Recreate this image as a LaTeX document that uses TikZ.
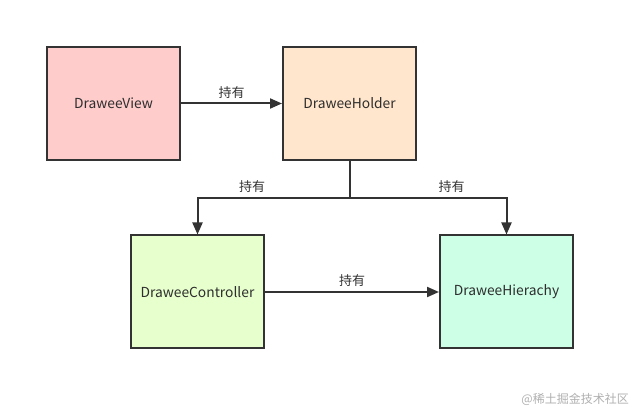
\documentclass[tikz,border=0pt]{standalone}
\usepackage{fontspec}
\setmainfont{Noto Sans CJK SC}
\usetikzlibrary{arrows.meta}
\definecolor{cPink}{HTML}{FFCCCC}
\definecolor{cOrange}{HTML}{FFE6CC}
\definecolor{cGreen}{HTML}{E6FFCC}
\definecolor{cMint}{HTML}{CCFFE6}
\definecolor{cLine}{HTML}{333333}
\definecolor{cWm}{HTML}{B0B0B0}
\tikzset{
  box/.style={draw=cLine, line width=2pt, minimum width=133pt, minimum height=113pt, inner sep=0pt, font=\fontsize{13.8}{16}\selectfont, text=cLine!90!black},
  conn/.style={draw=cLine, line width=2pt, -{Triangle[length=12pt,width=10pt]}},
  lbl/.style={font=\fontsize{13}{15}\selectfont, text=cLine, inner sep=1pt}
}
\begin{document}
\begin{tikzpicture}[x=1pt,y=-1pt]
\useasboundingbox[fill=white] (0,0) rectangle (635,411);
\node[box, fill=cPink] (view) at (113.5,103.5) {DraweeView};
\node[box, fill=cOrange] (holder) at (349.5,103.5) {DraweeHolder};
\node[box, fill=cGreen] (ctrl) at (197.5,292) {DraweeController};
\node[box, fill=cMint] (hier) at (506.5,292) {DraweeHierachy};
\coordinate (split) at (349.5,198);
\draw[conn] (view) -- node[lbl, above=3pt] {持有} (holder);
\draw[draw=cLine, line width=2pt] (holder.south) -- (split);
\draw[conn] (split) -- node[lbl, above=3pt, pos=0.64] {持有} (split -| ctrl.north) -- (ctrl.north);
\draw[conn] (split) -- node[lbl, above=3pt, pos=0.65] {持有} (split -| hier.north) -- (hier.north);
\draw[conn] (ctrl) -- node[lbl, above=3pt] {持有} (hier);
\node[font=\fontsize{12}{14}\selectfont, text=cWm, anchor=east, inner sep=0pt] (wm) at (629,399) {@稀土掘金技术社区};
\end{tikzpicture}
\end{document}
